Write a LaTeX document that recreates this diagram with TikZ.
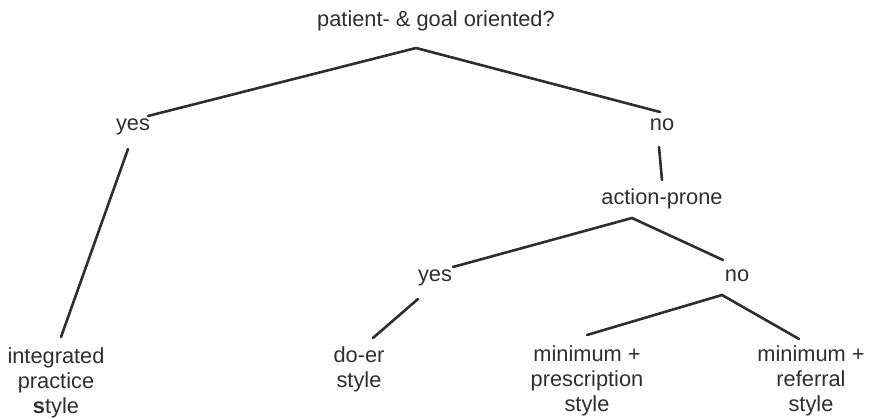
\documentclass[tikz,border=0pt]{standalone}
\usepackage{fontspec}
\setmainfont{Liberation Sans}
\definecolor{ink}{HTML}{2E2E2E}
\begin{document}
\begin{tikzpicture}[x=1pt,y=-1pt,
  lbl/.style={inner sep=0pt,align=center,text=ink,font=\fontsize{21.8}{25}\selectfont},
  edge/.style={draw=ink,line width=2.6pt,line cap=round}]
\useasboundingbox (0,0) rectangle (870,419);
% texts
\node[lbl] (root) at (436,21) {patient- \& goal oriented?};
\node[lbl] (yes1) at (133,127) {yes};
\node[lbl] (no1) at (662,125) {no};
\node[lbl] (act) at (662,199) {action-prone};
\node[lbl] (yes2) at (435,278) {yes};
\node[lbl] (no2) at (737,276) {no};
\node[lbl] (integ) at (56,383) {integrated\\practice\\\textbf{s}tyle};
\node[lbl] (doer) at (359,369) {do-er\\style};
\node[lbl] (presc) at (587,381) {minimum +\\prescription\\style};
\node[lbl] (refer) at (811,381) {minimum +\\referral\\style};
% connector points
\coordinate (r0) at (416,48);
\coordinate (r1) at (148,116);
\coordinate (r2) at (660,112);
\coordinate (y1a) at (128,149);
\coordinate (y1b) at (61,337);
\coordinate (n1a) at (659,147);
\coordinate (n1b) at (662,180);
\coordinate (a0) at (632,218);
\coordinate (a1) at (453,267);
\coordinate (a2) at (723,260);
\coordinate (y2a) at (418,299);
\coordinate (y2b) at (373,338);
\coordinate (n2) at (722,295);
\coordinate (n2a) at (587,335);
\coordinate (n2b) at (799,339);
% connectors
\draw[edge] (r1) -- (r0) -- (r2);
\draw[edge] (y1a) -- (y1b);
\draw[edge] (n1a) -- (n1b);
\draw[edge] (a1) -- (a0) -- (a2);
\draw[edge] (y2a) -- (y2b);
\draw[edge] (n2a) -- (n2) -- (n2b);
\end{tikzpicture}
\end{document}
